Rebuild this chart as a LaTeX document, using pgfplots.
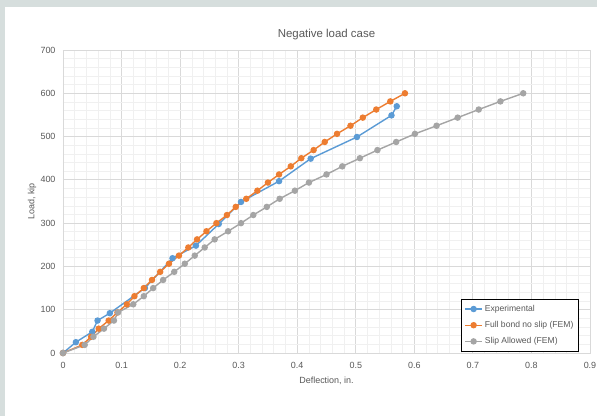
\documentclass[border=0pt]{standalone}
\usepackage{pgfplots}
\pgfplotsset{compat=1.18}
\usepackage{fontspec}
\setmainfont{Liberation Sans}
\definecolor{cblue}{HTML}{5B9BD5}
\definecolor{corange}{HTML}{ED7D31}
\definecolor{cgray}{HTML}{A5A5A5}
\definecolor{ctext}{HTML}{595959}
\definecolor{cgrid}{HTML}{D9D9D9}
\definecolor{cminor}{HTML}{F0F0F0}
\definecolor{cframe}{HTML}{D6DEDD}
\begin{document}
\begin{tikzpicture}
\fill[cframe] (-63bp,-63bp) rectangle (534bp,353bp);
\fill[white] (-58bp,-63bp) rectangle (534bp,346bp);
\useasboundingbox (-63bp,-63bp) rectangle (534bp,353bp);
\begin{axis}[
    at={(0,0)}, anchor=south west,
    scale only axis,
    width=527bp, height=303bp,
    xmin=0, xmax=0.9, ymin=0, ymax=700,
    xtick={0,0.1,...,0.9},
    ytick={0,100,...,700},
    minor x tick num=4,
    minor y tick num=4,
    grid=both,
    major grid style={cgrid, line width=0.8bp},
    minor grid style={cminor, line width=0.6bp},
    axis line style={cgrid, line width=0.8bp},
    major tick length=0pt, minor tick length=0pt,
    tick label style={font=\fontsize{9}{10}\selectfont, text=ctext},
    /pgf/number format/assume math mode=true,
    xticklabel style={/pgf/number format/fixed, yshift=-6bp},
    yticklabel style={xshift=-4bp},
    title={Negative load case},
    title style={font=\fontsize{11.5}{13}\selectfont, text=ctext, at={(0.5,1)}, anchor=center, yshift=9bp},
    xlabel={Deflection, in.},
    ylabel={Load, kip},
    label style={font=\fontsize{9}{10}\selectfont, text=ctext},
    xlabel style={at={(0.5,0)}, anchor=center, yshift=-28bp},
    ylabel style={at={(0,0.5)}, anchor=center, rotate=0, yshift=31bp},
    every axis plot/.append style={line width=1.4bp, mark=*, mark size=2.5bp},
    legend style={at={(rel axis cs:0.979,0.004)}, anchor=south east,
        draw=black, line width=1.1bp, font=\fontsize{8.6}{10}\selectfont, text=ctext,
        row sep=4.5bp, inner xsep=3bp, inner ysep=4bp},
    legend cell align=left,
    legend image code/.code={
        \draw[#1, mark repeat=2, mark phase=2] plot coordinates {(0cm,0cm) (0.3cm,0cm) (0.6cm,0cm)};
    },
]
\addplot[cblue, mark options={fill=cblue}] coordinates {
(0,0) (0.022,25) (0.05,49) (0.059,75) (0.08,92) (0.14,150) (0.187,219)
(0.227,248) (0.266,298) (0.304,349) (0.369,397) (0.423,449) (0.502,499)
(0.561,549) (0.570,570)
};
\addlegendentry{Experimental}
\addplot[corange, mark options={fill=corange}] coordinates {
(0,0) (0.033,18.75) (0.048,37.5) (0.061,56.25) (0.078,75) (0.093,93.75)
(0.109,112.5) (0.122,131.25) (0.138,150) (0.152,168.75) (0.166,187.5)
(0.181,206.25) (0.198,225) (0.214,243.75) (0.229,262.5) (0.245,281.25)
(0.262,300) (0.280,318.75) (0.295,337.5) (0.313,356.25) (0.332,375)
(0.35,393.75) (0.369,412.5) (0.389,431.25) (0.407,450) (0.428,468.75)
(0.447,487.5) (0.468,506.25) (0.491,525) (0.512,543.75) (0.535,562.5)
(0.559,581.25) (0.584,600)
};
\addlegendentry{Full bond no slip (FEM)}
\addplot[cgray, mark options={fill=cgray}] coordinates {
(0,0) (0.037,18.75) (0.052,37.5) (0.07,56.25) (0.087,75) (0.094,93.75)
(0.12,112.5) (0.138,131.25) (0.154,150) (0.171,168.75) (0.19,187.5)
(0.208,206.25) (0.225,225) (0.242,243.75) (0.259,262.5) (0.282,281.25)
(0.304,300) (0.325,318.75) (0.348,337.5) (0.37,356.25) (0.396,375)
(0.42,393.75) (0.45,412.5) (0.477,431.25) (0.507,450) (0.537,468.75)
(0.569,487.5) (0.601,506.25) (0.638,525) (0.674,543.75) (0.71,562.5)
(0.747,581.25) (0.786,600)
};
\addlegendentry{Slip Allowed (FEM)}
\end{axis}
\end{tikzpicture}
\end{document}
